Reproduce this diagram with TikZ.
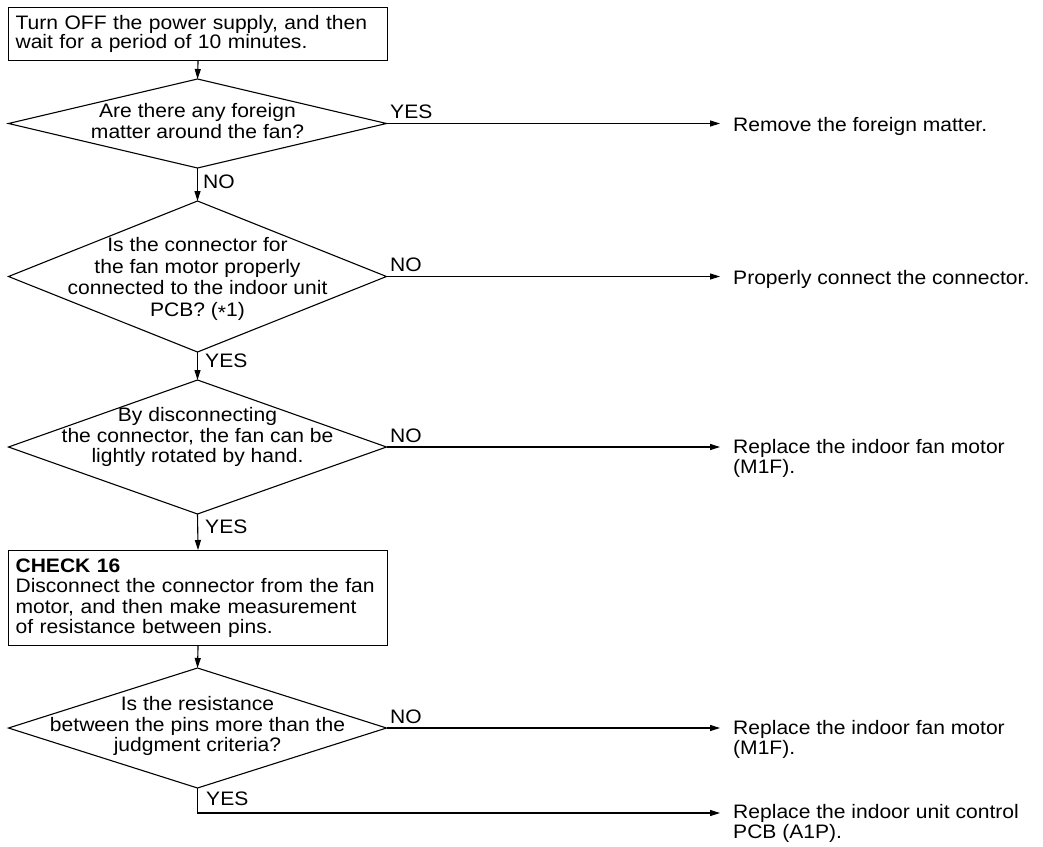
\documentclass[tikz,border=0pt]{standalone}
\usepackage{fontspec}
\setmainfont{Liberation Sans}[FakeStretch=1.08]
\usetikzlibrary{arrows.meta,shapes.geometric}
\begin{document}
\begin{tikzpicture}[x=1pt,y=-1pt,
  every node/.style={font=\fontsize{19.5}{20.5}\selectfont, text=black},
  box/.style={draw, line width=1.1pt, rectangle, anchor=north west, inner xsep=7pt, inner ysep=0pt, align=left, text width=365pt},
  dia/.style={draw, line width=1.1pt, diamond, inner sep=0pt, outer sep=0pt},
  q/.style={align=center, inner sep=0pt},
  lab/.style={anchor=base west, inner sep=0pt},
  res/.style={anchor=base west, inner sep=0pt, align=left},
  arr/.style={line width=1.1pt, -{Triangle[length=10pt,width=6pt]}},
  ln/.style={line width=1.1pt}]
\useasboundingbox (0,0) rectangle (1043,846);

% boxes
\node[box, minimum height=53pt, font=\fontsize{19.5}{19.5}\selectfont] (b1) at (8,7) {Turn OFF the power supply, and then\\wait for a period of 10 minutes.};
\node[box, minimum height=95pt] (b2) at (8,550) {\textbf{CHECK 16}\\Disconnect the connector from the fan\\motor, and then make measurement\\of resistance between pins.};

% diamonds
\node[dia, minimum width=378pt, minimum height=89pt] (d1) at (197.5,123.5) {};
\node[q] (t1) at (197.5,121) {Are there any foreign\\matter around the fan?};
\node[dia, minimum width=378pt, minimum height=151pt] (d2) at (197.5,276.5) {};
\node[q, font=\fontsize{19.5}{21.5}\selectfont] (t2) at (197.5,279) {Is the connector for\\the fan motor properly\\connected to the indoor unit\\PCB? (\raisebox{-0.35ex}{*}1)};
\node[dia, minimum width=378pt, minimum height=134pt] (d3) at (197.5,447) {};
\node[q] (t3) at (197.5,437) {By disconnecting\\the connector, the fan can be\\lightly rotated by hand.};
\node[dia, minimum width=378pt, minimum height=120pt] (d4) at (197.5,728) {};
\node[q] (t4) at (197.5,726) {Is the resistance\\between the pins more than the\\judgment criteria?};

% arrow end points
\coordinate (a1) at (720,123.5);
\coordinate (a2) at (720,276.5);
\coordinate (a3) at (720,447);
\coordinate (a4) at (720,728);
\coordinate (a5) at (720,813);

% results (base anchor = last line)
\node[res] (r1) at (733,131) {Remove the foreign matter.};
\node[res] (r2) at (733,284) {Properly connect the connector.};
\node[res] (r3) at (733,473.5) {Replace the indoor fan motor\\(M1F).};
\node[res] (r4) at (733,754.5) {Replace the indoor fan motor\\(M1F).};
\node[res] (r5) at (733,838.5) {Replace the indoor unit control\\PCB (A1P).};

% connectors
\draw[arr] (b1.south) -- (d1.north);
\draw[arr] (d1.south) -- (d2.north);
\draw[arr] (d2.south) -- (d3.north);
\draw[arr] (d3.south) -- (b2.north);
\draw[arr] (b2.south) -- (d4.north);
\draw[arr] (d1.east) -- (a1);
\draw[arr] (d2.east) -- (a2);
\draw[arr] (d3.east) -- (a3);
\draw[arr] (d4.east) -- (a4);
\draw[arr] (d4.south) |- (a5);

% labels
\node[lab] (l1) at (390,118) {YES};
\node[lab] (l2) at (203,188) {NO};
\node[lab] (l3) at (390,271) {NO};
\node[lab] (l4) at (205,367) {YES};
\node[lab] (l5) at (390,442) {NO};
\node[lab] (l6) at (205,533) {YES};
\node[lab] (l7) at (390,723) {NO};
\node[lab] (l8) at (206,805) {YES};
\end{tikzpicture}
\end{document}
